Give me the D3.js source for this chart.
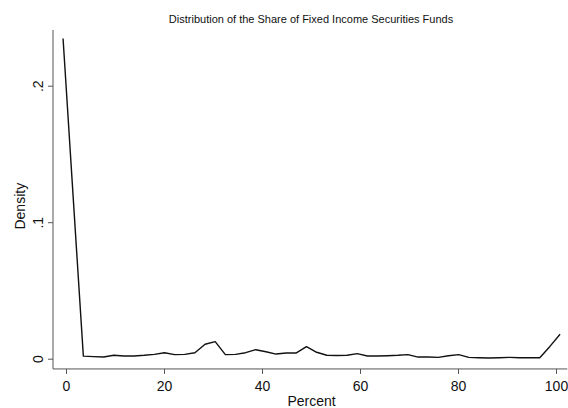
<!DOCTYPE html>
<html>
<head>
<meta charset="utf-8">
<script src="https://cdn.jsdelivr.net/npm/d3@7"></script>
<style>
  html, body { margin: 0; padding: 0; background: #fff; }
  svg { display: block; font-family: "Liberation Sans", Arial, sans-serif; }
</style>
</head>
<body>
<svg id="chart" width="568" height="408"></svg>
<script>
// Kernel density estimate of the fixed-income share (percent), evaluated on a 50-point grid
const percentGrid = [
  -0.6, 1.47, 3.54, 5.61, 7.68, 9.75, 11.82, 13.89, 15.96, 18.03,
  20.10, 22.17, 24.24, 26.31, 28.38, 30.45, 32.52, 34.59, 36.66, 38.73,
  40.80, 42.87, 44.94, 47.01, 49.08, 51.15, 53.22, 55.29, 57.36, 59.43,
  61.50, 63.57, 65.64, 67.71, 69.78, 71.85, 73.92, 75.99, 78.06, 80.13,
  82.20, 84.27, 86.34, 88.41, 90.48, 92.55, 94.62, 96.69, 98.76, 100.83
];
const density = [
  0.2346, 0.118, 0.0019, 0.0015, 0.0012, 0.0025, 0.0020, 0.0020, 0.0025, 0.0032,
  0.0044, 0.0030, 0.0032, 0.0044, 0.0106, 0.0125, 0.0030, 0.0032, 0.0044, 0.0066,
  0.0051, 0.0034, 0.0042, 0.0042, 0.0088, 0.0047, 0.0025, 0.0023, 0.0025, 0.0037,
  0.0020, 0.0020, 0.0022, 0.0025, 0.0030, 0.0012, 0.0012, 0.0010, 0.0022, 0.0030,
  0.0010, 0.0007, 0.0005, 0.0007, 0.0010, 0.0007, 0.0007, 0.0007, 0.0090, 0.0179
];

const xTicks = [0, 20, 40, 60, 80, 100];
const yTicks = [0, 0.1, 0.2];
const yTickLabels = ["0", ".1", ".2"];

const titleText = "Distribution of the Share of Fixed Income Securities Funds";
const xTitle = "Percent";
const yTitle = "Density";

const svg = d3.select("#chart");

const x = d3.scaleLinear().domain([0, 100]).range([66, 556]);
const y = d3.scaleLinear().domain([0, 0.2]).range([358.7, 85.7]);

// plot region extents in data units
const xExtent = [-2.65, 102.3];
const yExtent = [-0.0075, 0.2408];

const axisColor = "#555";
const labelFont = "Liberation Sans, Arial, sans-serif";

// x axis
const xAxisY = y(yExtent[0]);
const gx = svg.append("g").attr("transform", `translate(0,${xAxisY})`);
gx.append("line")
  .attr("x1", x(xExtent[0])).attr("x2", x(xExtent[1]))
  .attr("stroke", axisColor).attr("stroke-width", 1);
gx.call(g => {
  const axis = d3.axisBottom(x).tickValues(xTicks).tickSize(5).tickSizeOuter(0).tickPadding(7.5);
  axis(g);
  g.select(".domain").remove();
  g.selectAll(".tick line").attr("stroke", axisColor);
  g.selectAll(".tick text")
    .attr("fill", "#111")
    .style("font-size", "14px")
    .style("font-family", labelFont);
});

// y axis
const yAxisX = x(xExtent[0]);
const gy = svg.append("g").attr("transform", `translate(${yAxisX},0)`);
gy.append("line")
  .attr("y1", y(yExtent[0])).attr("y2", y(yExtent[1]))
  .attr("stroke", axisColor).attr("stroke-width", 1);
gy.call(g => {
  const axis = d3.axisLeft(y).tickValues(yTicks)
    .tickFormat((d, i) => yTickLabels[i])
    .tickSize(5).tickSizeOuter(0).tickPadding(0);
  axis(g);
  g.select(".domain").remove();
  g.selectAll(".tick line").attr("stroke", axisColor);
  g.selectAll(".tick text")
    .attr("fill", "#111")
    .attr("x", null).attr("dy", null)
    .attr("text-anchor", "middle")
    .attr("transform", "translate(-10.5,0) rotate(-90)")
    .style("font-size", "14px")
    .style("font-family", labelFont);
});

// density curve
const line = d3.line()
  .x((d, i) => x(percentGrid[i]))
  .y(d => y(d));

svg.append("path")
  .datum(density)
  .attr("d", line)
  .attr("fill", "none")
  .attr("stroke", "#111")
  .attr("stroke-width", 1.4)
  .attr("stroke-linejoin", "round");

// titles
svg.append("text")
  .attr("x", 311).attr("y", 23)
  .attr("text-anchor", "middle")
  .style("font-size", "11px")
  .attr("fill", "#111")
  .text(titleText);

svg.append("text")
  .attr("x", 311.5).attr("y", 405.5)
  .attr("text-anchor", "middle")
  .style("font-size", "14px")
  .attr("fill", "#111")
  .text(xTitle);

svg.append("text")
  .attr("transform", `translate(25,${y(0.1) - 16}) rotate(-90)`)
  .attr("text-anchor", "middle")
  .style("font-size", "14px")
  .attr("fill", "#111")
  .text(yTitle);
</script>
</body>
</html>
